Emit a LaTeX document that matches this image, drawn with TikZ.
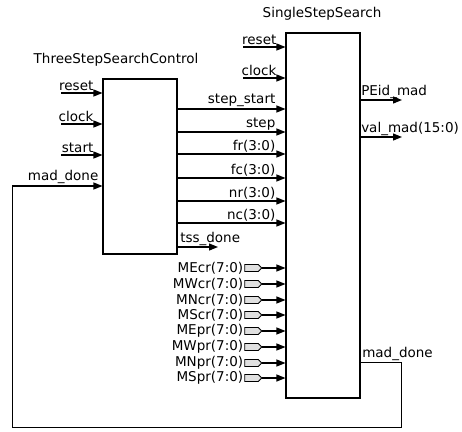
\documentclass[tikz,border=0pt]{standalone}
\usepackage{fontspec}
\setmainfont{DejaVu Sans}
\usetikzlibrary{arrows.meta, shapes.symbols}

\begin{document}
\begin{tikzpicture}[x=1pt,y=-1pt,
  font=\fontsize{13.5}{15}\selectfont,
  block/.style={draw, line width=1.1pt, inner sep=0pt},
  sig/.style={line width=1.2pt, -{Triangle[length=9pt,width=7pt]}},
  wire/.style={line width=1pt},
  port/.style={draw, line width=0.8pt, fill=black!12, shape=signal, signal to=east,
    minimum width=17pt, minimum height=7pt, inner sep=0pt},
  lbl/.style={inner sep=1.5pt}]
\useasboundingbox (0,0) rectangle (462,431);

% the two blocks
\node[block, minimum width=74pt, minimum height=175pt] (tss) at (140,166.5) {};
\node[block, minimum width=74pt, minimum height=365pt] (sss) at (323,215.5) {};
\node[anchor=base] (tsstitle) at (116,63) {ThreeStepSearchControl};
\node[anchor=base] (ssstitle) at (322,17) {SingleStepSearch};

% inputs of the control block
\foreach \name/\y in {reset/93,clock/124,start/155}{
  \coordinate (tss-\name) at (61,\y);
  \draw[sig] (tss-\name) -- (tss.west |- tss-\name)
    node[above left, lbl, xshift=-7pt] {\name};
}

% inputs of the search block
\foreach \name/\y in {reset/47,clock/78}{
  \coordinate (sss-\name) at (243,\y);
  \draw[sig] (sss-\name) -- (sss.west |- sss-\name)
    node[above left, lbl, xshift=-7pt] {\name};
}

% control -> search
\foreach \name/\y in {step\_start/109,step/132,fr(3:0)/154,fc(3:0)/178,nr(3:0)/201,nc(3:0)/223}{
  \draw[sig] (tss.east |- 0,\y) -- (sss.west |- 0,\y)
    node[above left, lbl, xshift=-8pt] {\name};
}

% tss_done
\coordinate (tssdone) at (218,247);
\draw[sig] (tss.east |- tssdone) -- (tssdone);
\node[above right, lbl, xshift=1pt] (tssdonelbl) at (tss.east |- tssdone) {tss\_done};

% memory ports
\foreach \name/\y [count=\i] in {MEcr/268,MWcr/284,MNcr/300,MScr/315,MEpr/331,MWpr/347,MNpr/363,MSpr/378}{
  \node[port] (port\i) at (251.5,\y) {};
  \node[anchor=east, inner sep=1pt] (portlbl\i) at (port\i.west) {\name(7:0)};
  \draw[sig] (port\i.east) -- (sss.west |- port\i);
}

% outputs of the search block
\coordinate (peid) at (402,100);
\coordinate (valmad) at (402,137);
\draw[sig] (sss.east |- peid) -- (peid);
\draw[sig] (sss.east |- valmad) -- (valmad);
\node[above right, lbl, xshift=-1pt] (peidlbl) at (sss.east |- peid) {PEid\_mad};
\node[above right, lbl, xshift=-1pt] (valmadlbl) at (sss.east |- valmad) {val\_mad(15:0)};

% mad_done feedback
\coordinate (fbR) at (401,362);
\coordinate (fbL) at (12,427);
\coordinate (mdin) at (tss.west |- 0,186);
\draw[wire] (sss.east |- fbR) -- (fbR) |- (fbL) -- (fbL |- mdin);
\draw[sig] (fbL |- mdin) -- (mdin) node[above left, lbl, xshift=-2pt] {mad\_done};
\node[above right, lbl] (mdlbl) at (sss.east |- fbR) {mad\_done};
\end{tikzpicture}
\end{document}
